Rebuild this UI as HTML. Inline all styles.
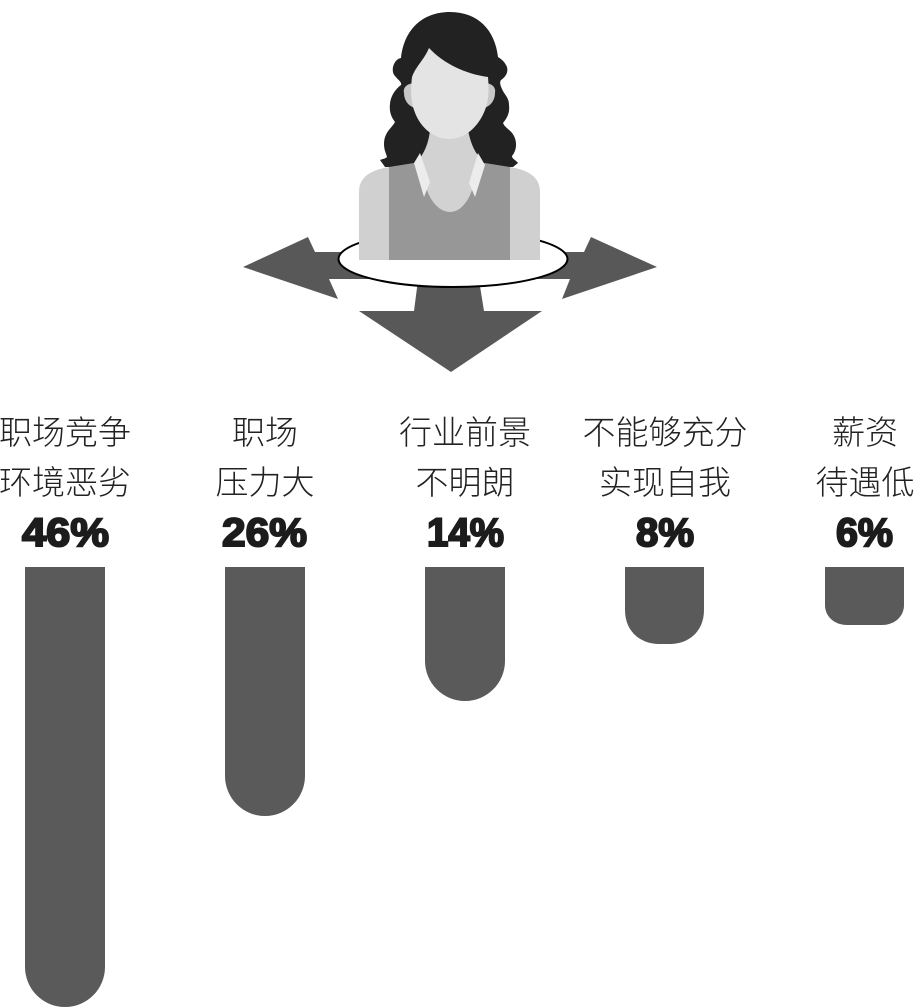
<!DOCTYPE html>
<html><head><meta charset="utf-8"><style>
html,body{margin:0;padding:0;background:#fff}
svg{display:block}
.c{font-family:"Liberation Sans","Noto Sans CJK SC",sans-serif;font-size:33px;fill:#222;font-weight:300;text-anchor:middle}
.p{font-family:"Liberation Sans",sans-serif;font-size:40px;font-weight:700;fill:#1c1c1c;stroke:#1c1c1c;stroke-width:2px}
</style></head><body>
<svg width="915" height="1007" viewBox="0 0 915 1007" xmlns="http://www.w3.org/2000/svg">
<!-- arrows -->
<g fill="#585858">
<polygon points="243,267 308,237 315,252 400,252 400,279 329,279 338,299"/>
<polygon points="657,267 591,237 584,252 500,252 500,279 570,279 562,299"/>
<polygon points="451,372 359,311 414,311 418,280 479,280 484,311 542,311"/>
</g>
<ellipse cx="453" cy="259" rx="114.5" ry="28" fill="#fff" stroke="#000" stroke-width="2"/>
<!-- hair -->
<path fill="#222" d="M450,12 C422,12 404,30 401,58 C394,59 390,71 395,76 C398,80 402,82 401,85 C397,88 391,94 390,104 C389,113 392,118 395,122 C392,128 384,132 384,144 C384,150 386,153 387,157 C385,159 382,159 380,160 L385,167 L513,167 L518,163 C516,160 512,159 512,156 C517,150 517,142 514,136 C511,130 505,128 503,123 C507,118 510,113 509,105 C509,98 505,95 503,91 C501,87 499,83 501,80 C507,76 509,70 506,65 C504,61 501,59 498,57 C495,30 478,12 450,12Z"/>
<!-- body -->
<path fill="#d0d0d0" d="M359,260 L359,192 C359,176 372,170 389,167 L510,167 C527,170 540,176 540,192 L540,260Z"/>
<path fill="#979797" d="M389,260 L389,167 L414,163 L485,163 L510,167 L510,260Z"/>
<!-- neck -->
<path fill="#d2d2d2" d="M430,130 L468,130 C470,140 473,150 480,158 L472,190 C468,202 460,212 450,212 C440,212 431,202 427,190 L420,158 C426,150 429,140 430,130Z"/>
<!-- collars -->
<polygon fill="#ececec" points="420,153 414,163 424,197 430,182"/>
<polygon fill="#ececec" points="478,153 485,165 475,197 469,183"/>
<!-- ears -->
<path fill="#c8c8c8" d="M414,83 C406,84 403,88 404,93 C404,100 408,106 415,108Z"/>
<path fill="#c8c8c8" d="M486,83 C493,84 496,88 495,93 C495,100 491,106 484,108Z"/>
<!-- face -->
<path fill="#e4e4e4" d="M429,48 C444,64 466,74 488,77 C489,90 489,100 485,110 C478,128 464,139 449,139 C434,139 420,128 414,110 C410,98 411,86 412,77 C416,66 424,60 429,48Z"/>
<!-- labels -->
<g class="c">
<text class="c" x="65" y="444">职场竞争</text>
<text class="c" x="65" y="494">环境恶劣</text>
<text class="c" x="265" y="444">职场</text>
<text class="c" x="265" y="494">压力大</text>
<text class="c" x="465" y="444">行业前景</text>
<text class="c" x="465" y="494">不明朗</text>
<text class="c" x="665" y="444">不能够充分</text>
<text class="c" x="665" y="494">实现自我</text>
<text class="c" x="865" y="444">薪资</text>
<text class="c" x="865" y="494">待遇低</text>
</g>
<text class="p" x="22" y="546" textLength="87" lengthAdjust="spacingAndGlyphs">46%</text>
<text class="p" x="222" y="546" textLength="85" lengthAdjust="spacingAndGlyphs">26%</text>
<text class="p" x="427" y="546" textLength="77" lengthAdjust="spacingAndGlyphs">14%</text>
<text class="p" x="636" y="546" textLength="58" lengthAdjust="spacingAndGlyphs">8%</text>
<text class="p" x="836" y="546" textLength="57" lengthAdjust="spacingAndGlyphs">6%</text>
<!-- bars -->
<g fill="#5a5a5a">
<path d="M25,567 H105 V967 A40,40 0 0 1 25,967Z"/>
<path d="M225,567 H305 V776 A40,40 0 0 1 225,776Z"/>
<path d="M425,567 H505 V661 A40,40 0 0 1 425,661Z"/>
<path d="M625,567 H704 V610 C704,632 688,644 670,644 H659 C641,644 625,632 625,610Z"/>
<path d="M825,567 H904 V605 C904,617 894,625 882,625 H847 C835,625 825,617 825,605Z"/>
</g>
</svg>
</body></html>
